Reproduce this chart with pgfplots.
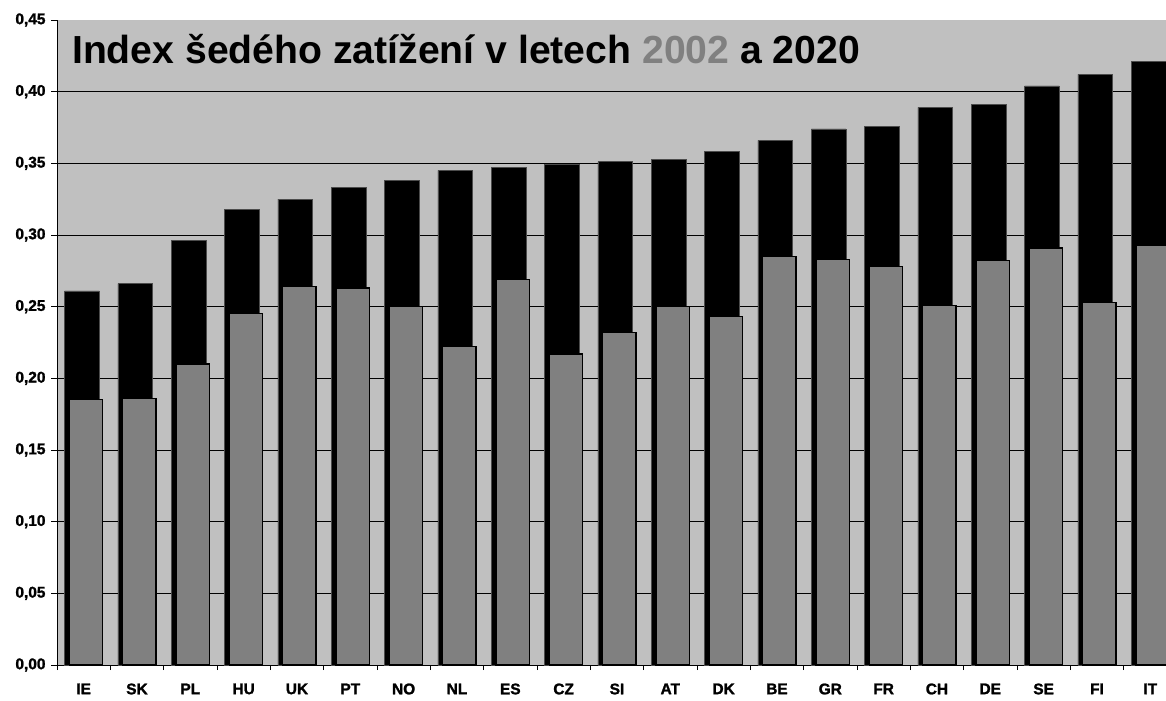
\documentclass[border=0pt]{standalone}
\usepackage{pgfplots}
\pgfplotsset{compat=1.18}
\usepackage{pgfplotstable}
\usepackage{fontspec}
\setmainfont{Liberation Sans}
\newfontfamily\tickfont[FakeBold=1.5]{Liberation Sans Bold}
\definecolor{plotbg}{HTML}{C0C0C0}
\definecolor{gray02}{HTML}{808080}

% index values 2002 and 2020
\pgfplotstableread{
cat v2002 v2020
IE 0.185 0.261
SK 0.186 0.266
PL 0.210 0.296
HU 0.245 0.318
UK 0.264 0.325
PT 0.263 0.333
NO 0.250 0.338
NL 0.222 0.345
ES 0.269 0.347
CZ 0.217 0.349
SI 0.232 0.351
AT 0.250 0.353
DK 0.243 0.358
BE 0.285 0.366
GR 0.283 0.374
FR 0.278 0.376
CH 0.251 0.389
DE 0.282 0.391
SE 0.291 0.404
FI 0.253 0.412
IT 0.293 0.421
}\datatable

\begin{document}
\begin{tikzpicture}
\begin{axis}[
    scale only axis,
    width=1109bp, height=645bp,
    xmin=-0.5, xmax=20.295,
    ymin=0, ymax=0.45,
    axis x line*=bottom, axis y line*=left,
    axis line style={black, line width=1bp},
    axis background/.style={fill=plotbg},
    tick align=outside,
    tick style={black, line width=0.8bp},
    xtick={0,...,20},
    xticklabels={IE,SK,PL,HU,UK,PT,NO,NL,ES,CZ,SI,AT,DK,BE,GR,FR,CH,DE,SE,FI,IT},
    major x tick style={draw=none},
    minor xtick={-0.5,0.5,...,20.5},
    minor tick length=5bp,
    ytick={0,0.05,0.1,0.15,0.2,0.25,0.3,0.35,0.4,0.45},
    major tick length=6bp,
    extra y ticks={0.05,0.1,0.15,0.2,0.25,0.3,0.35,0.4},
    extra y tick labels={},
    extra y tick style={ymajorgrids=true, major tick length=0pt},
    major grid style={black, line width=0.8bp},
    /pgf/number format/assume math mode=true,
    tick label style={font=\tickfont\fontsize{15.5}{17}\selectfont},
    yticklabel style={xshift=-2bp, /pgf/number format/.cd, fixed, fixed zerofill, precision=2, use comma},
    xticklabel style={yshift=-9bp},
]
\addplot[ybar, bar width=0.65, bar shift=-0.032, fill=black, draw=black!70, line width=0.8bp]
    table[x expr=\coordindex, y=v2020] {\datatable};
\addplot[ybar, bar width=0.625, bar shift=0.045, fill=gray02, draw=black, line width=1.2bp]
    table[x expr=\coordindex, y=v2002] {\datatable};
\node[anchor=base west, font=\bfseries\fontsize{39.3}{44}\selectfont, inner sep=0pt]
    at (axis description cs:0.0135,0.932)
    {Index šedého zatížení v letech \textcolor{gray02}{2002} a 2020};
\end{axis}
\pgfresetboundingbox
\path[use as bounding box] ([shift={(-57bp,-35bp)}]current axis.south west)
    rectangle ([shift={(0bp,20bp)}]current axis.north east);
\end{tikzpicture}
\end{document}
